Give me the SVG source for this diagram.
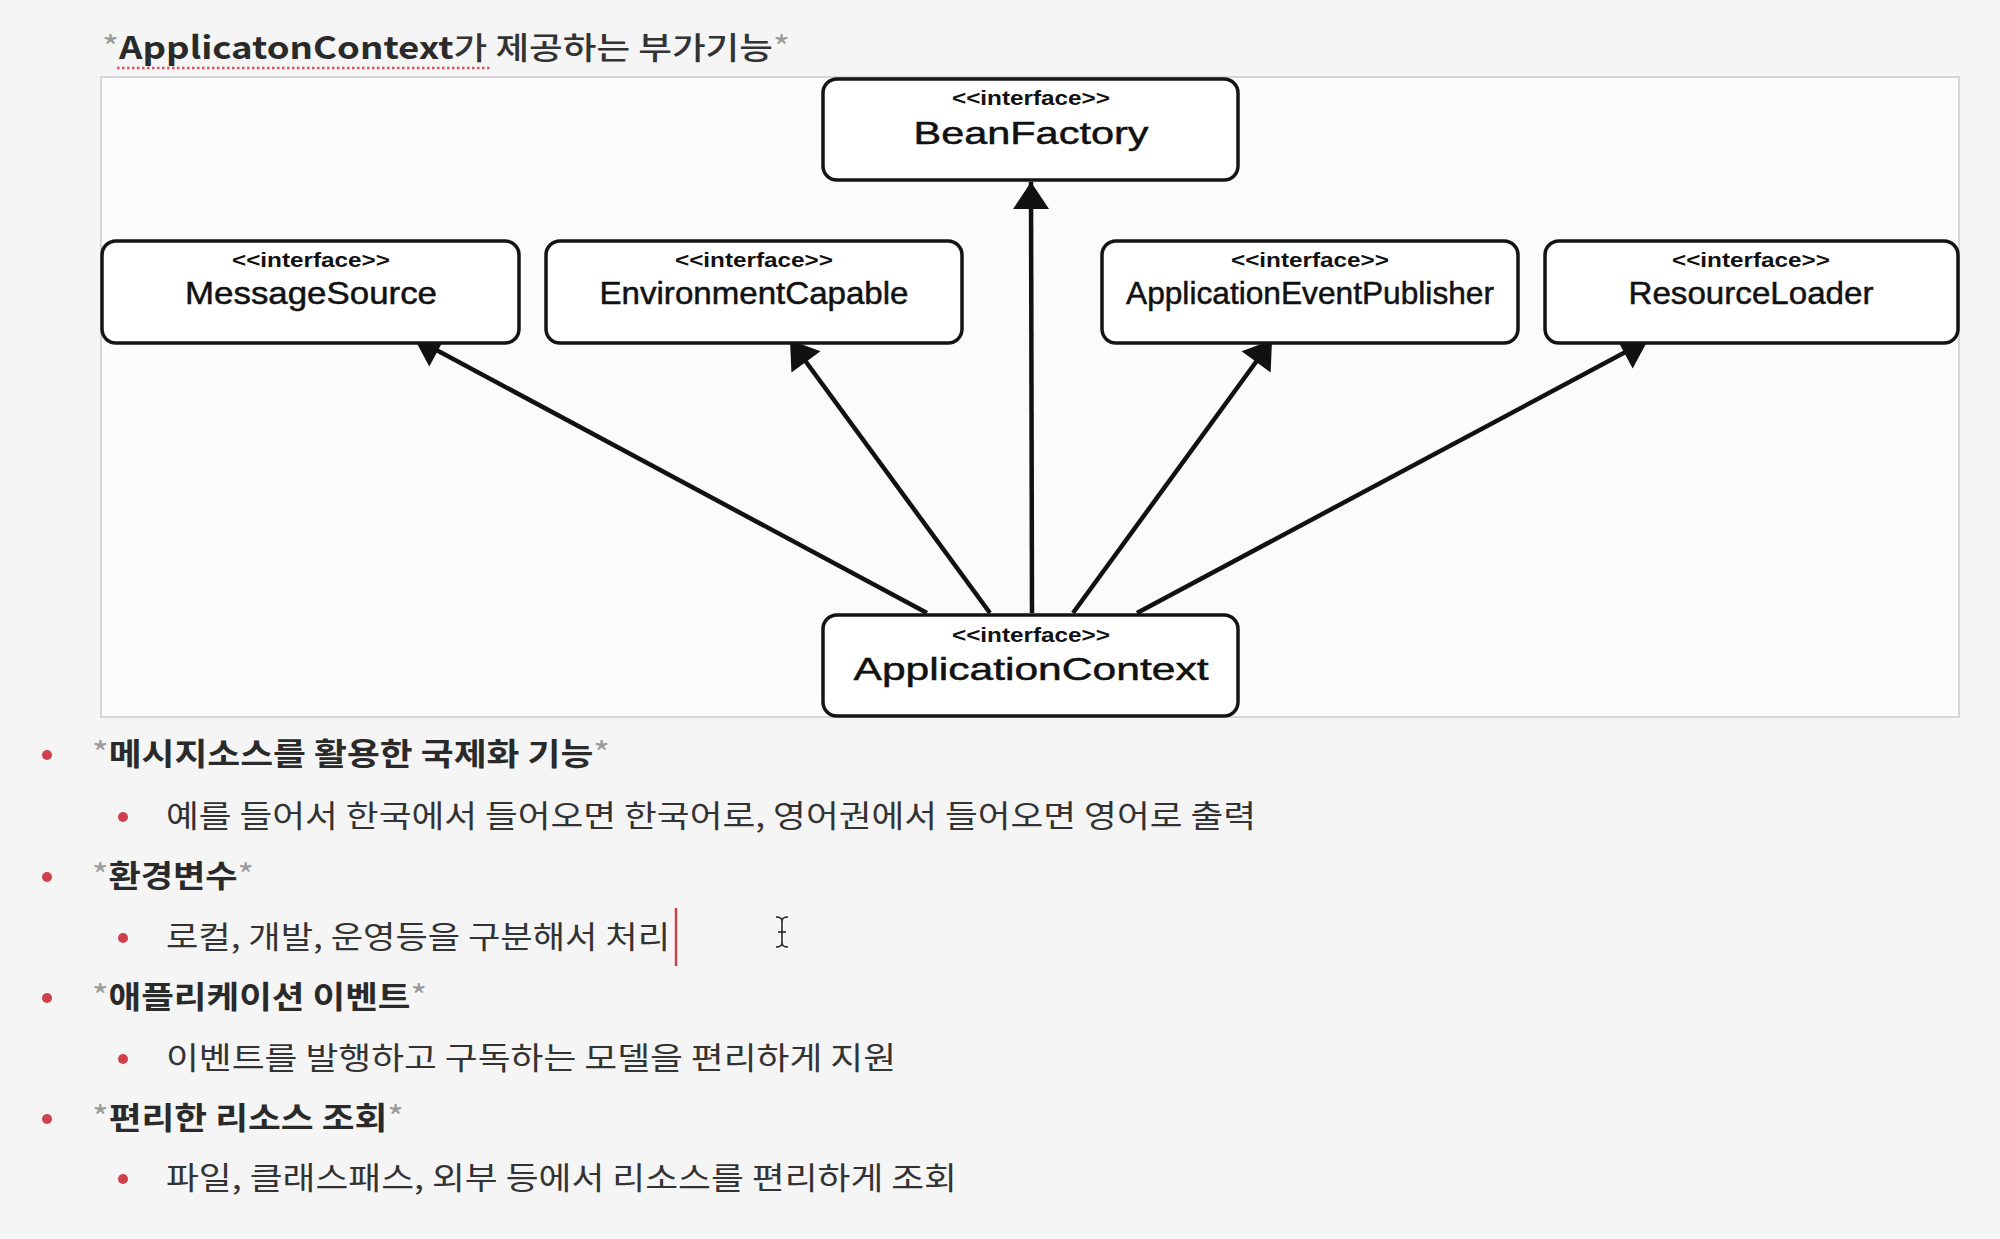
<svg xmlns="http://www.w3.org/2000/svg" width="2000" height="1239" viewBox="0 0 2000 1239">
<style>
.box{fill:#ffffff;stroke:#141414;stroke-width:3.5}
.st{font-family:"Liberation Sans",Arial,sans-serif;font-weight:700;font-size:20px;fill:#111;text-anchor:middle}
.nm{font-family:"Liberation Sans",Arial,sans-serif;font-size:32px;fill:#111;stroke:#111;stroke-width:0.5;text-anchor:middle}
.ko{font-family:"Noto Sans CJK KR",sans-serif;fill:#333;font-size:31px}
.hd{font-weight:700;fill:#2a2a2a}
.ast{fill:#9a9a9a;font-weight:400}
.dot{fill:#d0414d}
.conn{stroke:#111;stroke-width:4.5;fill:none;marker-end:url(#arr)}
</style>
<defs>
<marker id="arr" markerUnits="userSpaceOnUse" markerWidth="28" markerHeight="38" refX="27" refY="18" orient="auto" overflow="visible">
<path d="M0,0 L27,18 L0,36 z" fill="#111"/>
</marker>
</defs>
<rect x="0" y="0" width="2000" height="1239" fill="#f5f5f5"/>
<g id="title">
<text class="ko" x="102" y="59" font-size="33" textLength="688" lengthAdjust="spacingAndGlyphs"><tspan class="ast">*</tspan><tspan font-weight="700" fill="#2a2a2a">ApplicatonContext</tspan><tspan font-weight="500">가 제공하는 부가기능</tspan><tspan class="ast">*</tspan></text>
<line x1="117" y1="68" x2="492" y2="68" stroke="#e0505a" stroke-width="2.5" stroke-dasharray="2.5,2.5"/>
</g>
<rect id="frame" x="101" y="77" width="1858" height="640" fill="#fbfbfb" stroke="#d6d6d6" stroke-width="2"/>
<g id="connectors">
<path class="conn" d="M927,613 L414,338"/>
<path class="conn" d="M990,613 L790,340"/>
<path class="conn" d="M1032,613 L1031,182"/>
<path class="conn" d="M1073,613 L1272,340"/>
<path class="conn" d="M1137,613 L1648,340"/>
</g>
<g id="BeanFactory">
<rect class="box" x="823" y="79" width="415" height="101" rx="14"/>
<text class="st" x="1031" y="105" textLength="158" lengthAdjust="spacingAndGlyphs">&lt;&lt;interface&gt;&gt;</text>
<text class="nm" x="1031" y="144" font-size="37" textLength="235" lengthAdjust="spacingAndGlyphs">BeanFactory</text>
</g>
<g id="MessageSource">
<rect class="box" x="102" y="241" width="417" height="102" rx="14"/>
<text class="st" x="311" y="267" textLength="158" lengthAdjust="spacingAndGlyphs">&lt;&lt;interface&gt;&gt;</text>
<text class="nm" x="311" y="304" textLength="252" lengthAdjust="spacingAndGlyphs">MessageSource</text>
</g>
<g id="EnvironmentCapable">
<rect class="box" x="546" y="241" width="416" height="102" rx="14"/>
<text class="st" x="754" y="267" textLength="158" lengthAdjust="spacingAndGlyphs">&lt;&lt;interface&gt;&gt;</text>
<text class="nm" x="754" y="304" textLength="309" lengthAdjust="spacingAndGlyphs">EnvironmentCapable</text>
</g>
<g id="ApplicationEventPublisher">
<rect class="box" x="1102" y="241" width="416" height="102" rx="14"/>
<text class="st" x="1310" y="267" textLength="158" lengthAdjust="spacingAndGlyphs">&lt;&lt;interface&gt;&gt;</text>
<text class="nm" x="1310" y="304" textLength="368" lengthAdjust="spacingAndGlyphs">ApplicationEventPublisher</text>
</g>
<g id="ResourceLoader">
<rect class="box" x="1545" y="241" width="413" height="102" rx="14"/>
<text class="st" x="1751" y="267" textLength="158" lengthAdjust="spacingAndGlyphs">&lt;&lt;interface&gt;&gt;</text>
<text class="nm" x="1751" y="304" textLength="245" lengthAdjust="spacingAndGlyphs">ResourceLoader</text>
</g>
<g id="ApplicationContext">
<rect class="box" x="823" y="615" width="415" height="101" rx="14"/>
<text class="st" x="1031" y="642" textLength="158" lengthAdjust="spacingAndGlyphs">&lt;&lt;interface&gt;&gt;</text>
<text class="nm" x="1031" y="680" font-size="40" textLength="355" lengthAdjust="spacingAndGlyphs">ApplicationContext</text>
</g>
<g id="list">
<circle class="dot" cx="47" cy="755" r="5"/>
<text class="ko" x="92" y="765" textLength="518" lengthAdjust="spacingAndGlyphs"><tspan class="ast">*</tspan><tspan class="hd">메시지소스를 활용한 국제화 기능</tspan><tspan class="ast">*</tspan></text>
<circle class="dot" cx="123" cy="817" r="5"/>
<text class="ko" x="166" y="827" textLength="1090" lengthAdjust="spacingAndGlyphs">예를 들어서 한국에서 들어오면 한국어로, 영어권에서 들어오면 영어로 출력</text>
<circle class="dot" cx="47" cy="877" r="5"/>
<text class="ko" x="92" y="887" textLength="162" lengthAdjust="spacingAndGlyphs"><tspan class="ast">*</tspan><tspan class="hd">환경변수</tspan><tspan class="ast">*</tspan></text>
<circle class="dot" cx="123" cy="938" r="5"/>
<text class="ko" x="166" y="948" textLength="504" lengthAdjust="spacingAndGlyphs">로컬, 개발, 운영등을 구분해서 처리</text>
<circle class="dot" cx="47" cy="998" r="5"/>
<text class="ko" x="92" y="1008" textLength="335" lengthAdjust="spacingAndGlyphs"><tspan class="ast">*</tspan><tspan class="hd">애플리케이션 이벤트</tspan><tspan class="ast">*</tspan></text>
<circle class="dot" cx="123" cy="1059" r="5"/>
<text class="ko" x="166" y="1069" textLength="730" lengthAdjust="spacingAndGlyphs">이벤트를 발행하고 구독하는 모델을 편리하게 지원</text>
<circle class="dot" cx="47" cy="1119" r="5"/>
<text class="ko" x="92" y="1129" textLength="312" lengthAdjust="spacingAndGlyphs"><tspan class="ast">*</tspan><tspan class="hd">편리한 리소스 조회</tspan><tspan class="ast">*</tspan></text>
<circle class="dot" cx="123" cy="1179" r="5"/>
<text class="ko" x="166" y="1189" textLength="791" lengthAdjust="spacingAndGlyphs">파일, 클래스패스, 외부 등에서 리소스를 편리하게 조회</text>
</g>
<g id="cursor">
<line x1="676" y1="908" x2="676" y2="966" stroke="#d0414d" stroke-width="2.5"/>
<path d="M776,917 Q782,917 782,921 Q782,917 788,917 M782,921 L782,943 M776,947 Q782,947 782,943 Q782,947 788,947 M778,932 L786,932" fill="none" stroke="#fff" stroke-width="4"/>
<path d="M776,917 Q782,917 782,921 Q782,917 788,917 M782,921 L782,943 M776,947 Q782,947 782,943 Q782,947 788,947 M778,932 L786,932" fill="none" stroke="#222" stroke-width="1.6"/>
</g>
</svg>
